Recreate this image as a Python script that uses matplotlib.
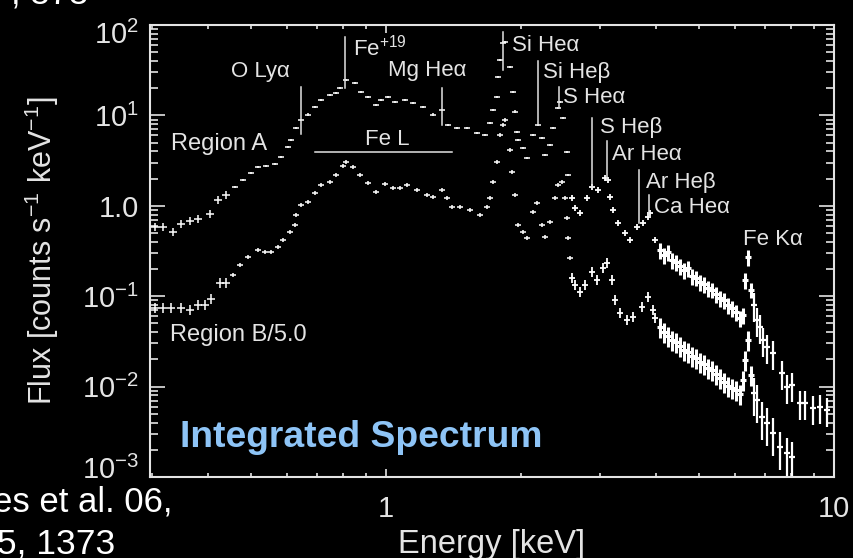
import numpy as np
import matplotlib
matplotlib.use("Agg")
import matplotlib.pyplot as plt
import matplotlib.transforms as mtransforms
from matplotlib.ticker import LogLocator, NullFormatter

plt.rcParams['font.family'] = ['Liberation Sans', 'DejaVu Sans']
plt.rcParams['mathtext.fontset'] = 'custom'
plt.rcParams['mathtext.rm'] = 'Liberation Sans'
plt.rcParams['mathtext.it'] = 'Liberation Sans:italic'
plt.rcParams['mathtext.bf'] = 'Liberation Sans:bold'
plt.rcParams['mathtext.default'] = 'regular'

# --- Region A spectrum (keV, counts/s/keV)
energy_a = [0.305, 0.318, 0.335, 0.349, 0.365, 0.381, 0.405, 0.422, 0.439, 0.460,
            0.480, 0.500, 0.518, 0.540, 0.565, 0.583, 0.604, 0.614, 0.630, 0.646,
            0.670, 0.694, 0.716, 0.750, 0.773, 0.789, 0.814, 0.853, 0.880, 0.912,
            0.950, 0.975, 1.010, 1.047, 1.103, 1.149, 1.209, 1.273, 1.334, 1.375,
            1.440, 1.516, 1.596, 1.663, 1.707, 1.733, 1.769, 1.778, 1.796, 1.825,
            1.844, 1.892, 1.921, 1.941, 1.961, 1.971, 2.022, 2.064, 2.129, 2.184,
            2.229, 2.264, 2.323, 2.359, 2.421, 2.446, 2.484, 2.535, 2.548, 2.601,
            2.642, 2.710, 2.810, 2.884, 2.974, 3.083, 3.131, 3.162, 3.212, 3.295,
            3.417, 3.505, 3.634, 3.748, 3.845, 3.885, 3.986, 4.090, 4.174, 4.261,
            4.350, 4.440, 4.533, 4.627, 4.723, 4.820, 4.920, 5.023, 5.127, 5.234,
            5.342, 5.454, 5.567, 5.683, 5.801, 5.921, 6.044, 6.170, 6.266, 6.330,
            6.429, 6.527, 6.629, 6.734, 6.838, 6.944, 7.088, 7.310, 7.656, 7.855,
            8.060, 8.397, 8.615, 8.977, 9.307, 9.647]
flux_a = [0.586, 0.586, 0.516, 0.632, 0.682, 0.718, 0.816, 1.16, 1.32, 1.62,
          1.94, 2.32, 2.70, 2.77, 2.91, 3.48, 4.49, 5.37, 7.29, 8.94,
          10.2, 12.4, 14.9, 16.9, 17.8, 20.2, 24.8, 22.9, 18.2, 16.1,
          13.1, 14.9, 16.1, 14.1, 14.9, 13.8, 12.4, 10.2, 11.5, 7.87,
          7.29, 7.29, 6.42, 6.10, 8.28, 11.5, 16.1, 26.7, 41.2, 63.5,
          65.2, 34.5, 18.2, 11.0, 6.59, 5.37, 4.38, 3.40, 6.10, 7.87,
          5.65, 3.66, 4.73, 7.29, 12.1, 14.1, 9.40, 3.96, 2.20, 1.22,
          0.950, 0.837, 1.22, 1.62, 1.50, 2.04, 1.94, 1.26, 0.903, 0.649,
          0.503, 0.421, 0.586, 0.649, 0.756, 0.837, 0.421, 0.326, 0.287, 0.310,
          0.253, 0.240, 0.217, 0.196, 0.206, 0.168, 0.160, 0.144, 0.137, 0.124,
          0.118, 0.106, 0.0960, 0.0912, 0.0803, 0.0744, 0.0672, 0.0577, 0.0623, 0.152,
          0.273, 0.118, 0.0803, 0.0548, 0.0459, 0.0329, 0.0276, 0.0237, 0.0142, 0.00995,
          0.0105, 0.00662, 0.00662, 0.00583, 0.00598, 0.00554]

# --- Region B spectrum, already divided by 5
energy_b = [0.305, 0.318, 0.331, 0.349, 0.365, 0.381, 0.394, 0.407, 0.426, 0.439,
            0.455, 0.472, 0.492, 0.518, 0.537, 0.554, 0.574, 0.589, 0.610, 0.626,
            0.630, 0.646, 0.670, 0.694, 0.716, 0.750, 0.773, 0.802, 0.814, 0.844,
            0.875, 0.912, 0.950, 0.995, 1.037, 1.075, 1.114, 1.173, 1.235, 1.273,
            1.334, 1.368, 1.404, 1.463, 1.540, 1.621, 1.680, 1.707, 1.733, 1.769,
            1.796, 1.825, 1.844, 1.892, 1.911, 1.941, 1.971, 2.022, 2.064, 2.129,
            2.173, 2.229, 2.264, 2.323, 2.384, 2.421, 2.471, 2.509, 2.535, 2.548,
            2.575, 2.601, 2.642, 2.710, 2.782, 2.884, 2.958, 3.052, 3.115, 3.195,
            3.245, 3.330, 3.452, 3.559, 3.728, 3.845, 3.945, 3.986, 4.090, 4.174,
            4.261, 4.350, 4.440, 4.533, 4.627, 4.723, 4.820, 4.920, 5.023, 5.127,
            5.234, 5.342, 5.454, 5.567, 5.683, 5.801, 5.921, 6.044, 6.170, 6.266,
            6.330, 6.429, 6.527, 6.629, 6.734, 6.909, 7.088, 7.310, 7.578, 7.855,
            8.060]
flux_b = [0.0744, 0.0744, 0.0744, 0.0744, 0.0707, 0.0803, 0.0803, 0.0936, 0.141, 0.141,
          0.172, 0.223, 0.273, 0.326, 0.310, 0.310, 0.352, 0.421, 0.516, 0.616,
          0.795, 1.03, 1.11, 1.39, 1.71, 1.84, 2.20, 2.77, 3.07, 2.70,
          2.20, 1.80, 1.43, 1.75, 1.58, 1.58, 1.71, 1.50, 1.32, 1.26,
          1.50, 1.22, 0.975, 0.975, 0.903, 0.795, 0.975, 1.22, 1.84, 3.07,
          6.10, 7.87, 8.94, 4.16, 2.38, 1.32, 0.616, 0.516, 0.443, 0.858,
          1.08, 0.616, 0.454, 0.665, 1.22, 1.71, 1.84, 1.22, 0.737, 0.443,
          0.266, 0.160, 0.134, 0.112, 0.134, 0.186, 0.152, 0.206, 0.234, 0.152,
          0.0912, 0.0655, 0.0548, 0.0592, 0.0763, 0.0985, 0.0707, 0.0577, 0.0459, 0.0404,
          0.0365, 0.0329, 0.0313, 0.0283, 0.0255, 0.0243, 0.0219, 0.0208, 0.0188, 0.0179,
          0.0161, 0.0153, 0.0139, 0.0125, 0.0113, 0.0102, 0.00970, 0.00922, 0.00832, 0.0119,
          0.0198, 0.0329, 0.0135, 0.00854, 0.00714, 0.00463, 0.00398, 0.00308, 0.00216, 0.00185,
          0.00167]

# --- Error sizes by energy band (edges in keV)
err_edges = [0.45, 2.6, 4.0, 6.6]
rel_err_a = [0.10, 0.03, 0.08, 0.20, 0.35]
rel_err_b = [0.12, 0.05, 0.12, 0.25, 0.45]
bin_halfwidth = [0.020, 0.015, 0.014, 0.016, 0.016]
bar_width = [1.1, 1.1, 1.3, 2.2, 1.6]

# --- Line identifications: energy, marker top/bottom flux
line_names = ["O Ly\u03b1", "Fe$^{+19}$", "Mg He\u03b1", "Si He\u03b1", "Si He\u03b2",
              "S He\u03b1", "S He\u03b2", "Ar He\u03b1", "Ar He\u03b2", "Ca He\u03b1"]
line_energy = [0.646, 0.810, 1.334, 1.825, 2.184, 2.433, 2.884, 3.115, 3.671, 3.865]
line_top = [20.7, 74.0, 20.2, 84.1, 40.2, 20.7, 9.40, 5.24, 2.50, 1.32]
line_bottom = [6.26, 20.2, 7.87, 31.9, 7.87, 12.1, 1.62, 1.94, 0.649, 0.837]

# Fe L complex range
fe_l_range = [0.694, 1.404]
fe_l_level = 3.96


def draw_spectrum(ax, energy, flux, rel):
    e = np.asarray(energy)
    f = np.asarray(flux)
    idx = np.digitize(e, err_edges)
    yerr = f * np.asarray(rel)[idx]
    xerr = e * np.asarray(bin_halfwidth)[idx]
    # thicker bars where bins are crowded at high energy
    for band in range(len(bar_width)):
        m = idx == band
        if not m.any():
            continue
        ax.errorbar(e[m], f[m], xerr=xerr[m], yerr=yerr[m], fmt='none',
                    ecolor='white', elinewidth=bar_width[band], capsize=0)


fg = '#e4e4e4'
fig = plt.figure(figsize=(8.54, 5.58), dpi=100, facecolor='black')
ax = fig.add_axes([0.1756, 0.1452, 0.801, 0.810], facecolor='black')
ax.set_xscale('log')
ax.set_yscale('log')
ax.set_xlim(0.297, 10)
ax.set_ylim(1e-3, 1e2)

draw_spectrum(ax, energy_a, flux_a, rel_err_a)
draw_spectrum(ax, energy_b, flux_b, rel_err_b)

# line markers
for e, top, bot in zip(line_energy, line_top, line_bottom):
    ax.plot([e, e], [bot, top], color=fg, lw=1.1)
ax.plot(fe_l_range, [fe_l_level, fe_l_level], color=fg, lw=1.1)

lab = dict(color=fg, fontsize=16)
ax.text(0.523, 30.4, line_names[0], ha='center', va='center', **lab)
ax.text(0.844, 55.9, line_names[1], ha='left', va='center', **lab)
ax.text(1.235, 31.1, line_names[2], ha='center', va='center', **lab)
ax.text(1.911, 59.6, line_names[3], ha='left', va='center', **lab)
ax.text(2.241, 30.0, line_names[4], ha='left', va='center', **lab)
ax.text(2.484, 15.9, line_names[5], ha='left', va='center', **lab)
ax.text(3.005, 7.39, line_names[6], ha='left', va='center', **lab)
ax.text(3.195, 3.71, line_names[7], ha='left', va='center', **lab)
ax.text(3.805, 1.82, line_names[8], ha='left', va='center', **lab)
ax.text(3.965, 0.962, line_names[9], ha='left', va='center', **lab)
ax.text(7.31, 0.426, "Fe K\u03b1", ha='center', va='center', **lab)
ax.text(1.005, 5.44, "Fe L", ha='center', va='center', **lab)

ax.text(0.031, 0.737, "Region A", transform=ax.transAxes, ha='left', va='center',
        color=fg, fontsize=17)
ax.text(0.029, 0.314, "Region B/5.0", transform=ax.transAxes, ha='left', va='center',
        color=fg, fontsize=17)
ax.text(0.044, 0.066, "Integrated Spectrum", transform=ax.transAxes, ha='left',
        va='baseline', color='#8ec4f6', fontsize=26.8, fontweight='bold')

# --- Axes styling
for s in ax.spines.values():
    s.set_color(fg)
    s.set_linewidth(1.5)

ax.set_yticks([1e-3, 1e-2, 1e-1, 1, 10, 100])
ax.set_yticklabels(["$10^{-3}$", "$10^{-2}$", "$10^{-1}$", "1.0", "$10^{1}$", "$10^{2}$"])
ax.yaxis.set_minor_locator(LogLocator(base=10, subs=np.arange(2, 10), numticks=20))
ax.yaxis.set_minor_formatter(NullFormatter())
ax.set_xticks([1, 10])
ax.set_xticklabels(["1", "10"])
ax.xaxis.set_minor_locator(LogLocator(base=10, subs=np.arange(2, 10), numticks=20))
ax.xaxis.set_minor_formatter(NullFormatter())

ax.tick_params(which='both', direction='in', top=True, right=True, color=fg,
               labelcolor=fg, width=1.2, labelsize=21)
ax.tick_params(axis='y', which='major', length=11, pad=8)
ax.tick_params(axis='y', which='minor', length=6)
ax.tick_params(axis='x', which='major', length=6, pad=13)
ax.tick_params(axis='x', which='minor', length=3)

# nudge the end labels inward so they stay inside the frame height
ylabels = ax.get_yticklabels()
ylabels[0].set_transform(ylabels[0].get_transform()
                         + mtransforms.ScaledTranslation(0, 10 / 100, fig.dpi_scale_trans))
ylabels[-1].set_transform(ylabels[-1].get_transform()
                          + mtransforms.ScaledTranslation(0, -7 / 100, fig.dpi_scale_trans))

ax.set_xlabel("Energy [keV]", color=fg, fontsize=23.5, labelpad=4)
ax.set_ylabel("Flux [counts s$^{-1}$ keV$^{-1}$]", color=fg, fontsize=22, labelpad=15)

# --- Reference note text around the frame
fig.text(88 / 854, 1 - 3 / 558, ", 373", ha='right', va='baseline', color='white', fontsize=25)
fig.text(173 / 854, 1 - 512 / 558, "es et al. 06,", ha='right', va='baseline',
         color='white', fontsize=25)
fig.text(115 / 854, 1 - 554 / 558, "5, 1373", ha='right', va='baseline',
         color='white', fontsize=25.5)

fig.savefig("out.png", dpi=100, facecolor='black')
